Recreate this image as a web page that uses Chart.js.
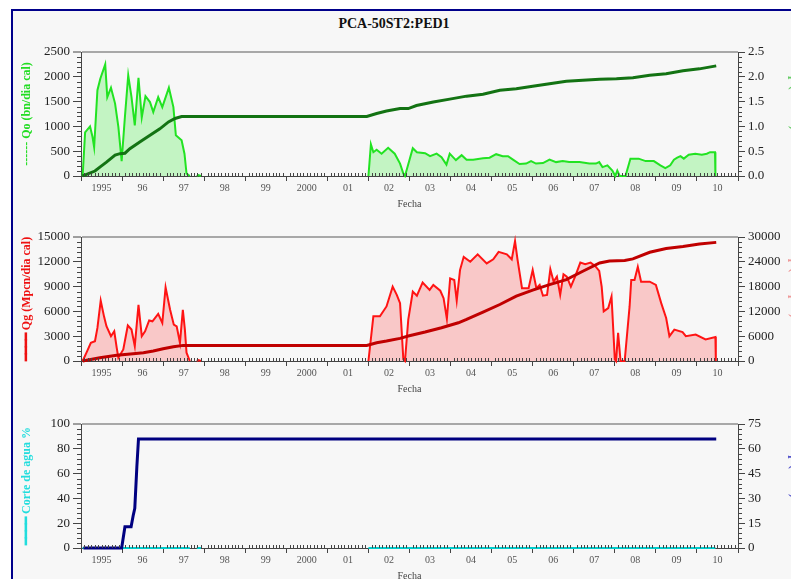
<!DOCTYPE html>
<html lang="es">
<head>
<meta charset="utf-8">
<title>PCA-50ST2:PED1</title>
<script src="https://cdn.jsdelivr.net/npm/chart.js@4.4.1/dist/chart.umd.min.js"></script>
<style>
  html, body { margin: 0; padding: 0; width: 791px; height: 579px; overflow: hidden; background: #fff; }
  #marco { position: absolute; left: 11px; top: 9px; width: 900px; height: 700px;
           border-left: 2px solid #00008b; border-top: 2px solid #00008b; background: #f7f7f7; }
  #titulo { position: absolute; left: 0; width: 788px; top: 16px; line-height: 16px; text-align: center;
            font: bold 14px "Liberation Serif", "Times New Roman", serif; color: #111; }
  canvas { position: absolute; left: 0; }
</style>
</head>
<body>
<div id="marco"></div>
<div id="titulo">PCA-50ST2:PED1</div>
<canvas id="petroleo" width="830" height="182" style="top:32px"></canvas>
<canvas id="gas" width="830" height="182" style="top:217px"></canvas>
<canvas id="agua" width="830" height="182" style="top:404px"></canvas>
<script>
// Eje de tiempo (años decimales)
const anios = [1995, 1996, 1997, 1998, 1999, 2000, 2001, 2002, 2003, 2004, 2005, 2006, 2007, 2008, 2009, 2010, 2011];
const etiquetasAnio = ['1995', '96', '97', '98', '99', '2000', '01', '02', '03', '04', '05', '06', '07', '08', '09', '10'];

// Tasa de petróleo Qo (bn/día cal)
const qoFecha = [1995.04, 1995.10, 1995.15, 1995.22, 1995.28, 1995.32, 1995.40, 1995.47, 1995.59, 1995.64,
  1995.73, 1995.83, 1995.91, 1995.99, 1996.07, 1996.15, 1996.23, 1996.31, 1996.40, 1996.48,
  1996.57, 1996.68, 1996.76, 1996.88, 1996.98, 1997.14, 1997.25, 1997.31, 1997.45, 1997.52,
  1997.57, 1997.65, 1997.72, 1997.82, 1997.86, 1997.92, 1999.50,
  2002.00, 2002.06, 2002.12, 2002.20, 2002.32, 2002.48, 2002.64, 2002.77, 2002.85, 2002.89,
  2003.08, 2003.18, 2003.38, 2003.50, 2003.66, 2003.78, 2003.90, 2003.98, 2004.06, 2004.13,
  2004.27, 2004.39, 2004.55, 2004.79, 2004.95, 2005.11, 2005.27, 2005.40, 2005.52, 2005.68,
  2005.84, 2005.96, 2006.08, 2006.25, 2006.41, 2006.57, 2006.73, 2006.89, 2007.14, 2007.38,
  2007.54, 2007.62, 2007.70, 2007.82, 2007.94, 2008.01, 2008.06, 2008.12, 2008.26, 2008.38,
  2008.58, 2008.75, 2008.95, 2009.11, 2009.23, 2009.35, 2009.44, 2009.52, 2009.60, 2009.68,
  2009.80, 2009.96, 2010.12, 2010.24, 2010.32, 2010.44, 2010.45];
const qoValor = [0, 880, 930, 1000, 790, 580, 1730, 1960, 2250, 1590,
  1780, 1460, 990, 300, 1200, 2030, 1590, 1020, 1980, 1180,
  1610, 1490, 1290, 1590, 1390, 1780, 1390, 820, 720, 450,
  50, 0, null, 0, 20, 0, null,
  0, 640, 480, 530, 450, 570, 450, 250, 50, 0,
  560, 480, 460, 400, 450, 380, 230, 450, 380, 320,
  420, 330, 330, 360, 370, 440, 400, 400, 330, 240,
  250, 300, 250, 260, 330, 280, 300, 280, 280, 250,
  250, 280, 180, 215, 110, 0, 110, 0, 0, 350,
  350, 300, 300, 215, 160, 215, 330, 370, 400, 350,
  430, 450, 430, 450, 480, 480, 0];

// Petróleo acumulado Np (MMbn)
const npFecha = [1995.04, 1995.06, 1995.34, 1995.46, 1995.62, 1995.83, 1995.95, 1996.07, 1996.19, 1996.44,
  1996.68, 1996.92, 1997.13, 1997.29, 1997.45, 2001.96, 2002.20, 2002.44, 2002.77, 2002.97,
  2003.17, 2003.58, 2003.98, 2004.39, 2004.79, 2005.20, 2005.60, 2006.00, 2006.41, 2006.82,
  2007.22, 2007.63, 2008.04, 2008.44, 2008.85, 2009.25, 2009.66, 2010.06, 2010.47];
const npValor = [0, 0.01, 0.10, 0.18, 0.28, 0.42, 0.45, 0.46, 0.55, 0.69,
  0.82, 0.95, 1.09, 1.16, 1.20, 1.20, 1.26, 1.31, 1.36, 1.36,
  1.42, 1.49, 1.55, 1.61, 1.65, 1.73, 1.76, 1.81, 1.86, 1.91,
  1.93, 1.95, 1.96, 1.98, 2.03, 2.06, 2.12, 2.16, 2.22];

// Tasa de gas Qg (Mpcn/día cal)
const qgFecha = [1995.04, 1995.15, 1995.24, 1995.34, 1995.40, 1995.48, 1995.56, 1995.62, 1995.73, 1995.81,
  1995.87, 1995.91, 1996.03, 1996.14, 1996.23, 1996.31, 1996.40, 1996.48, 1996.56, 1996.66,
  1996.74, 1996.88, 1996.98, 1997.06, 1997.17, 1997.26, 1997.33, 1997.41, 1997.48, 1997.53,
  1997.57, 1997.65, 1997.72, 1997.82, 1997.86, 1997.92, 1999.50,
  2002.00, 2002.12, 2002.28, 2002.44, 2002.59, 2002.69, 2002.77, 2002.85, 2002.89, 2002.97,
  2003.08, 2003.18, 2003.32, 2003.49, 2003.58, 2003.75, 2003.83, 2003.91, 2003.99, 2004.09,
  2004.15, 2004.23, 2004.32, 2004.48, 2004.66, 2004.88, 2005.04, 2005.17, 2005.37, 2005.49,
  2005.57, 2005.63, 2005.74, 2005.90, 2006.00, 2006.09, 2006.17, 2006.25, 2006.35, 2006.43,
  2006.51, 2006.59, 2006.67, 2006.75, 2006.83, 2006.93, 2007.04, 2007.16, 2007.28, 2007.41,
  2007.52, 2007.62, 2007.68, 2007.73, 2007.84, 2007.92, 2008.00, 2008.03, 2008.08, 2008.14,
  2008.24, 2008.36, 2008.40, 2008.48, 2008.56, 2008.64, 2008.85, 2009.00, 2009.13, 2009.25,
  2009.33, 2009.45, 2009.65, 2009.73, 2009.97, 2010.21, 2010.45, 2010.46];
const qgValor = [0, 1200, 2200, 2400, 4000, 7300, 5400, 4200, 3000, 3600,
  1600, 400, 1400, 4300, 3800, 1800, 6800, 3000, 3600, 4900,
  4800, 5700, 4600, 8900, 6200, 4400, 4200, 2200, 6200, 3800,
  1000, 0, null, 0, 100, 0, null,
  0, 5400, 5400, 6600, 9000, 8000, 7000, 200, 0, 5000,
  8400, 7900, 9500, 8600, 9200, 8500, 7600, 5100, 10000, 9800,
  7300, 11000, 12600, 12000, 12900, 11800, 12300, 13200, 12900, 12300,
  14500, 12300, 8800, 8800, 11000, 8800, 9200, 7900, 8000, 11100,
  9600, 10200, 8000, 10500, 10200, 9000, 10300, 11900, 11700, 11900,
  11500, 10900, 9000, 6000, 6400, 7800, 200, 0, 3400, 0,
  0, 6600, 9800, 9800, 11400, 9600, 9600, 9200, 7000, 5200,
  3000, 3800, 3500, 3000, 3200, 2600, 2900, 0];

// Gas acumulado Gp (MMpcn)
const gpFecha = [1995.04, 1995.46, 1995.87, 1996.27, 1996.52, 1996.76, 1997.00, 1997.25, 1997.49, 2001.96,
  2002.20, 2002.44, 2002.77, 2002.97, 2003.38, 2003.78, 2004.19, 2004.39, 2004.79, 2005.20,
  2005.60, 2006.00, 2006.41, 2006.82, 2007.22, 2007.63, 2007.87, 2008.24, 2008.44, 2008.85,
  2009.25, 2009.66, 2010.06, 2010.47];
const gpValor = [0, 800, 1370, 1770, 2010, 2410, 2980, 3460, 3780, 3780,
  4420, 4820, 5470, 6030, 7000, 8040, 9250, 10050, 11820, 13670,
  15680, 17130, 18490, 19700, 21710, 23720, 24200, 24300, 24700, 26300,
  27200, 27700, 28300, 28700];

// Corte de agua (%)
const aguaFecha = [1995.04, 1997.65, 1997.72, 1997.82, 1997.92, 1999.50, 2002.00, 2010.45];
const aguaValor = [0, 0, null, 0, 0, null, 0, 0];

// Agua acumulada Wp (Mbn)
const wpFecha = [1995.06, 1995.99, 1996.07, 1996.22, 1996.27, 1996.31, 1996.36, 1996.40, 2010.47];
const wpValor = [0, 0, 12.8, 12.8, 19.5, 24, 49, 66, 66];

const fuente = '"Liberation Serif", "Times New Roman", serif';
const puntos = (xs, ys) => xs.map((x, i) => ({ x: x, y: ys[i] }));
const entero = v => String(v);

// Marcas menores de los ejes
function marcasMenores(pasos) {
  return {
    id: 'marcasMenores',
    afterDraw(chart) {
      const ctx = chart.ctx;
      ctx.save();
      ctx.strokeStyle = '#444';
      ctx.lineWidth = 1;
      ctx.beginPath();
      Object.keys(pasos).forEach(id => {
        const s = chart.scales[id];
        const [menor, mayor] = pasos[id];
        const n = Math.round((s.max - s.min) / menor);
        for (let k = 1; k < n; k++) {
          const v = s.min + k * menor;
          const r = v / mayor;
          if (Math.abs(r - Math.round(r)) < 1e-6) continue;
          const p = Math.round(s.getPixelForValue(v)) + 0.5;
          if (s.isHorizontal()) { ctx.moveTo(p, s.top); ctx.lineTo(p, s.top - 3); }
          else if (s.position === 'left') { ctx.moveTo(s.right, p); ctx.lineTo(s.right - 4, p); }
          else { ctx.moveTo(s.left, p); ctx.lineTo(s.left + 4, p); }
        }
      });
      ctx.stroke();
      ctx.restore();
    }
  };
}

function escalaX() {
  return {
    type: 'linear', min: 1995, max: 2011,
    afterBuildTicks: s => { s.ticks = anios.map(v => ({ value: v })); },
    afterFit: s => { s.height = 38; },
    ticks: {
      autoSkip: false, maxRotation: 0, minRotation: 0, labelOffset: 20.5, padding: 1,
      color: '#555', font: { family: fuente, size: 10 },
      callback: (v, i) => etiquetasAnio[i] || ''
    },
    grid: { drawOnChartArea: false, tickLength: 5, tickColor: '#444' },
    border: { color: '#444', width: 1 },
    title: { display: true, text: 'Fecha', color: '#444', font: { family: fuente, size: 10 }, padding: { top: 0, bottom: 4 } }
  };
}

function escalaY(pos, max, paso, formato, titulo, color) {
  const izquierda = pos === 'left';
  return {
    type: 'linear', position: pos, min: 0, max: max,
    afterFit: s => { s.width = izquierda ? 67 : 92; },
    ticks: { stepSize: paso, padding: 3, color: '#222', font: { family: fuente, size: 13 }, callback: formato },
    grid: izquierda ? {
      drawOnChartArea: true, tickLength: 8, tickColor: '#444', tickWidth: 1,
      color: c => (c.tick && c.tick.value === max) ? '#a8a8a8' : 'rgba(0,0,0,0)',
      lineWidth: c => (c.tick && c.tick.value === max) ? 2 : 1
    } : { drawOnChartArea: false, tickLength: 7, tickColor: '#444' },
    border: { color: '#444', width: 1 },
    title: {
      display: true, text: titulo, color: color,
      font: { family: fuente, size: 12, weight: 'bold' },
      padding: { top: izquierda ? 6 : 29, bottom: 0 }
    }
  };
}

function panel(id, datasets, escalas, pasos) {
  return new Chart(document.getElementById(id), {
    type: 'line',
    data: { datasets: datasets },
    options: {
      responsive: false, animation: false,
      layout: { padding: { top: 20, left: 14, right: 0, bottom: 0 } },
      elements: { point: { radius: 0 }, line: { tension: 0 } },
      datasets: { line: { clip: 3 } },
      plugins: { legend: { display: false }, tooltip: { enabled: false } },
      scales: escalas
    },
    plugins: [marcasMenores(pasos)]
  });
}

// Panel de petróleo
panel('petroleo', [
  { label: 'Np', data: puntos(npFecha, npValor), yAxisID: 'y2', borderColor: '#137313', borderWidth: 3, fill: false },
  { label: 'Qo', data: puntos(qoFecha, qoValor), yAxisID: 'y', borderColor: '#22e322', borderWidth: 2,
    backgroundColor: 'rgba(40,235,40,0.25)', fill: 'origin' }
], {
  x: escalaX(),
  y: escalaY('left', 2500, 500, entero, '------ Qo (bn/dia cal)', '#22dd22'),
  y2: escalaY('right', 2.5, 0.5, v => v.toFixed(1), 'Np (MMbn) ━━━━', '#66cc66')
}, { x: [1 / 12, 1], y: [100, 500], y2: [0.1, 0.5] });

// Panel de gas
panel('gas', [
  { label: 'Gp', data: puntos(gpFecha, gpValor), yAxisID: 'y2', borderColor: '#c00000', borderWidth: 3, fill: false },
  { label: 'Qg', data: puntos(qgFecha, qgValor), yAxisID: 'y', borderColor: '#ff1414', borderWidth: 2,
    backgroundColor: 'rgba(255,60,60,0.25)', fill: 'origin' }
], {
  x: escalaX(),
  y: escalaY('left', 15000, 3000, entero, '━━━━ Qg (Mpcn/dia cal)', '#ee1111'),
  y2: escalaY('right', 30000, 6000, entero, 'Gp (MMpcn) ━━━━', '#ee9999')
}, { x: [1 / 12, 1], y: [600, 3000], y2: [1200, 6000] });

// Panel de agua
panel('agua', [
  { label: 'Wp', data: puntos(wpFecha, wpValor), yAxisID: 'y2', borderColor: '#000080', borderWidth: 3, fill: false },
  { label: 'Corte de agua', data: puntos(aguaFecha, aguaValor), yAxisID: 'y', borderColor: '#00cccc', borderWidth: 2, fill: false }
], {
  x: escalaX(),
  y: escalaY('left', 100, 20, entero, '━━━━ Corte de agua %', '#22dddd'),
  y2: escalaY('right', 75, 15, entero, 'Wp (Mbn) ━━━━', '#5555cc')
}, { x: [1 / 12, 1], y: [4, 20], y2: [3, 15] });
</script>
</body>
</html>
